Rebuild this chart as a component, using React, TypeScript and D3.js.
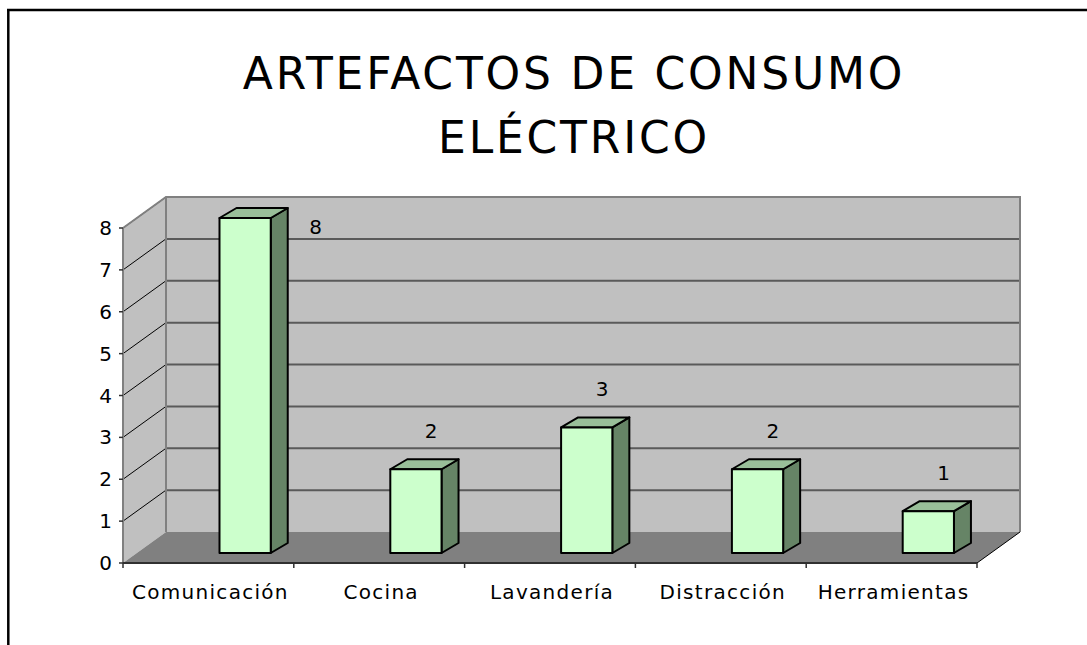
import * as d3 from "d3";

const categories = ["Comunicación", "Cocina", "Lavandería", "Distracción", "Herramientas"];
const values = [8, 2, 3, 2, 1];
const yTicks = [0, 1, 2, 3, 4, 5, 6, 7, 8];
const titleLines = ["ARTEFACTOS DE CONSUMO", "ELÉCTRICO"];

const W = 1087;
const H = 645;
const FONT = "'Comic Sans MS', 'DejaVu Sans', sans-serif";

// front plane of the plot
const left = 123;
const right = 977;
const bottom = 563;
const top = 228;
// 3d depth offset of the walls
const depthX = 43;
const depthY = -31;
// bar placement inside the depth
const barLift = 10;
const barDx = 17;
const barDy = -10;

export default function App() {
  const x = d3.scaleBand<string>().domain(categories).range([left, right]).padding(0);
  const y = d3.scaleLinear().domain([0, 8]).range([bottom, top]);
  const bw = x.bandwidth();

  const wallTop = y(8) + depthY;
  const wallBottom = y(0) + depthY;

  const pts = (p: number[][]) => p.map((d) => d.join(",")).join(" ");

  return (
    <svg width={W} height={H} style={{ position: "absolute", left: 0, top: 0, display: "block", background: "#fff" }}>
      {/* frame */}
      <line x1={7} x2={W} y1={10} y2={10} stroke="#000" strokeWidth={2.5} />
      <line x1={8.3} x2={8.3} y1={9} y2={H} stroke="#000" strokeWidth={2.5} />

      {/* title */}
      {titleLines.map((t, i) => (
        <text key={t} x={574} y={89 + i * 64} textAnchor="middle" fontFamily={FONT} fontSize={44} letterSpacing={2.8} fill="#000">
          {t}
        </text>
      ))}

      {/* side wall */}
      <polygon
        points={pts([[left, y(8)], [left + depthX, wallTop], [left + depthX, wallBottom], [left, y(0)]])}
        fill="#c0c0c0"
      />
      {/* back wall */}
      <rect x={left + depthX} y={wallTop} width={right - left} height={wallBottom - wallTop} fill="#c0c0c0" />
      {/* floor */}
      <polygon
        points={pts([[left, y(0)], [left + depthX, wallBottom], [right + depthX, wallBottom], [right, y(0)]])}
        fill="#808080"
      />

      {/* gridlines */}
      {yTicks.filter((t) => t > 0).map((t) => (
        <g key={t}>
          <line x1={left} y1={y(t)} x2={left + depthX} y2={y(t) + depthY} stroke="#000" strokeWidth={1} />
          <line x1={left + depthX} y1={y(t) + depthY} x2={right + depthX} y2={y(t) + depthY} stroke="#5a5a5a" strokeWidth={2} />
        </g>
      ))}

      {/* wall edges */}
      <polyline
        points={pts([[left, y(8)], [left + depthX, wallTop], [right + depthX, wallTop], [right + depthX, wallBottom]])}
        fill="none"
        stroke="#808080"
        strokeWidth={2}
      />
      <line x1={left + depthX} y1={wallTop} x2={left + depthX} y2={wallBottom} stroke="#808080" strokeWidth={2} />
      <line x1={right} y1={y(0)} x2={right + depthX} y2={wallBottom} stroke="#000" strokeWidth={1} />

      {/* axes */}
      <line x1={left} y1={y(8)} x2={left} y2={y(0)} stroke="#808080" strokeWidth={2} />
      <line x1={left} y1={y(0)} x2={right} y2={y(0)} stroke="#303030" strokeWidth={2} />
      {yTicks.map((t) => (
        <g key={t}>
          <line x1={left - 4} x2={left} y1={y(t)} y2={y(t)} stroke="#303030" strokeWidth={1.5} />
          <text x={112} y={y(t) + 7} textAnchor="end" fontFamily={FONT} fontSize={20} fill="#000">
            {t}
          </text>
        </g>
      ))}
      {[...categories.map((c) => x(c) as number), right].map((v, i) => (
        <line key={i} x1={v} x2={v} y1={y(0)} y2={y(0) + 5} stroke="#303030" strokeWidth={1.5} />
      ))}
      {categories.map((c) => (
        <text key={c} x={(x(c) as number) + bw / 2 + 2} y={599} textAnchor="middle" fontFamily={FONT} fontSize={20} letterSpacing={1.3} fill="#000">
          {c}
        </text>
      ))}

      {/* bars */}
      {categories.map((c, i) => {
        const v = values[i];
        const bx = (x(c) as number) + bw * 0.565;
        const bwid = bw * 0.3;
        const yb = y(0) - barLift;
        const yt = y(v) - barLift;
        const front = [[bx, yt], [bx + bwid, yt], [bx + bwid, yb], [bx, yb]];
        const topFace = [[bx, yt], [bx + barDx, yt + barDy], [bx + bwid + barDx, yt + barDy], [bx + bwid, yt]];
        const side = [[bx + bwid, yt], [bx + bwid + barDx, yt + barDy], [bx + bwid + barDx, yb + barDy], [bx + bwid, yb]];
        let lx = bx + bwid / 2 + barDx * 0.9;
        let ly = y(v) - 41;
        if (ly - 16 < wallTop) {
          lx = bx + bwid + barDx + 28;
          ly = y(v) + 6;
        }
        return (
          <g key={c} stroke="#000" strokeWidth={2} strokeLinejoin="round">
            <polygon points={pts(side)} fill="#668466" />
            <polygon points={pts(topFace)} fill="#99bf99" />
            <polygon points={pts(front)} fill="#ccffcc" />
            <text x={lx} y={ly} stroke="none" textAnchor="middle" fontFamily={FONT} fontSize={20} fill="#000">
              {v}
            </text>
          </g>
        );
      })}
    </svg>
  );
}
